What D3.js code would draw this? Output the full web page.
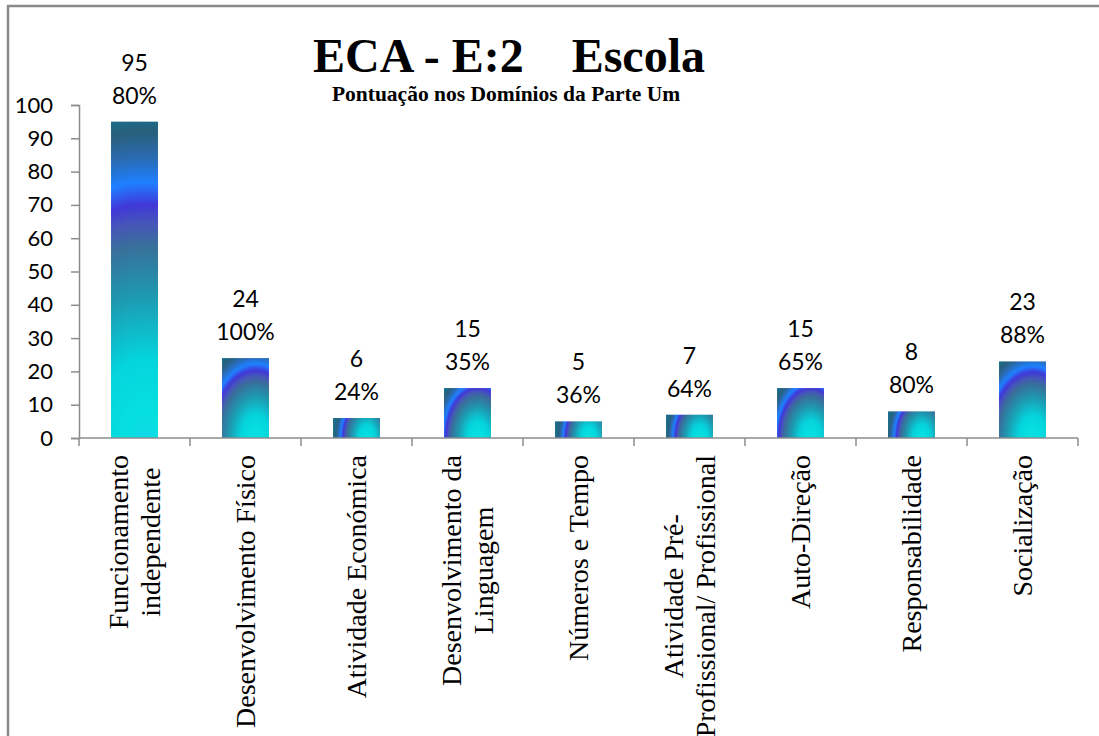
<!DOCTYPE html>
<html>
<head>
<meta charset="utf-8">
<script src="https://cdn.jsdelivr.net/npm/d3@7"></script>
<style>
  html, body { margin: 0; padding: 0; background: #fff; }
  svg { display: block; }
</style>
</head>
<body>
<svg id="chart" width="1099" height="736"></svg>
<script>
const categories = [
  "Funcionamento\nindependente",
  "Desenvolvimento Físico",
  "Atividade Económica",
  "Desenvolvimento da\nLinguagem",
  "Números e Tempo",
  "Atividade Pré-\nProfissional/ Profissional",
  "Auto-Direção",
  "Responsabilidade",
  "Socialização"
];
const scores = [95, 24, 6, 15, 5, 7, 15, 8, 23];
const percents = ["80%", "100%", "24%", "35%", "36%", "64%", "65%", "80%", "88%"];
const yTicks = [0, 10, 20, 30, 40, 50, 60, 70, 80, 90, 100];
const titleText = "ECA - E:2    Escola";
const subtitleText = "Pontuação nos Domínios da Parte Um";

const svg = d3.select("#chart");
const margin = { left: 79, right: 21 };
const W = 1099;

// outer border
svg.append("rect")
  .attr("x", 8).attr("y", 6).attr("width", 1200).attr("height", 900)
  .attr("fill", "none").attr("stroke", "#8a8a8a").attr("stroke-width", 2.5);

const defs = svg.append("defs");
const gradStops = [
  [0.00, "#10d8e8"], [0.08, "#06e0e0"], [0.25, "#04d4dc"], [0.45, "#1e98b0"],
  [0.60, "#38709a"], [0.67, "#4656b8"], [0.73, "#4038d8"],
  [0.80, "#1e80ff"], [0.88, "#2a6ab0"], [0.96, "#28607a"],
  [1.00, "#1a6c8a"]
];

const x = d3.scaleBand()
  .domain(categories)
  .range([margin.left, W - margin.right])
  .paddingInner(0.577)
  .paddingOuter(0.2885);

const y = d3.scaleLinear().domain([0, 100]).range([438, 105]);

// y axis
const yAxis = svg.append("g")
  .attr("transform", `translate(${margin.left},0)`)
  .call(d3.axisLeft(y).tickValues(yTicks).tickSize(8).tickPadding(18));
yAxis.select(".domain").attr("stroke", "#8c8c8c").attr("stroke-width", 1.5);
yAxis.selectAll(".tick line").attr("stroke", "#8c8c8c").attr("stroke-width", 1.5);
yAxis.selectAll(".tick text")
  .attr("font-family", "Lato, 'Open Sans', sans-serif")
  .attr("font-size", 22).attr("fill", "#000");

// per-bar elliptical radial gradients (centre near bottom-right)
scores.forEach((v, i) => {
  const bx = x(categories[i]), bw = x.bandwidth();
  const bh = y(0) - y(v);
  const diag = Math.sqrt(bw * bw + bh * bh);
  const g = defs.append("radialGradient")
    .attr("id", "barGrad" + i)
    .attr("gradientUnits", "userSpaceOnUse")
    .attr("cx", 0).attr("cy", 0).attr("r", 1)
    .attr("gradientTransform",
      `translate(${bx + 0.72 * bw},${y(0)}) scale(${0.64 * diag},${1.0 * diag})`);
  gradStops.forEach(s => g.append("stop").attr("offset", s[0]).attr("stop-color", s[1]));
});

// bars
svg.selectAll("rect.bar")
  .data(scores)
  .enter().append("rect")
  .attr("class", "bar")
  .attr("x", (d, i) => x(categories[i]))
  .attr("width", x.bandwidth())
  .attr("y", d => y(d))
  .attr("height", d => y(0) - y(d))
  .attr("fill", (d, i) => `url(#barGrad${i})`);

// x axis line and boundary ticks
const step = x.step();
const x0 = x.range()[0];
const boundaries = d3.range(categories.length + 1).map(i => x0 + i * step);
svg.append("line")
  .attr("x1", x0).attr("x2", x.range()[1])
  .attr("y1", y(0)).attr("y2", y(0))
  .attr("stroke", "#8c8c8c").attr("stroke-width", 1.5);
svg.selectAll("line.xtick")
  .data(boundaries)
  .enter().append("line")
  .attr("class", "xtick")
  .attr("x1", d => d).attr("x2", d => d)
  .attr("y1", y(0)).attr("y2", y(0) + 8)
  .attr("stroke", "#8c8c8c").attr("stroke-width", 1.5);

// data labels
const labelFont = "Lato, 'Open Sans', sans-serif";
scores.forEach((v, i) => {
  const cx = x(categories[i]) + x.bandwidth() / 2;
  svg.append("text")
    .attr("x", cx).attr("y", y(v) - 51)
    .attr("text-anchor", "middle")
    .attr("font-family", labelFont).attr("font-size", 23).attr("fill", "#000")
    .text(v);
  svg.append("text")
    .attr("x", cx).attr("y", y(v) - 18)
    .attr("text-anchor", "middle")
    .attr("font-family", labelFont).attr("font-size", 23).attr("fill", "#000")
    .text(percents[i]);
});

// category labels (rotated)
const catFont = "'Liberation Serif', 'Times New Roman', serif";
categories.forEach((c, i) => {
  const cx = x(c) + x.bandwidth() / 2;
  const lines = c.split("\n");
  const g = svg.append("g").attr("transform", `translate(${cx},${y(0) + 17}) rotate(-90)`);
  const texts = lines.map((ln, j) => g.append("text")
    .attr("font-family", catFont).attr("font-size", 28).attr("fill", "#000")
    .attr("dominant-baseline", "central")
    .attr("y", (j - (lines.length - 1) / 2) * 32)
    .text(ln));
  const maxW = d3.max(texts, t => t.node().getComputedTextLength());
  texts.forEach(t => t.attr("text-anchor", "middle").attr("x", -maxW / 2));
});

// titles
svg.append("text")
  .attr("x", 509).attr("y", 72)
  .attr("text-anchor", "middle")
  .attr("font-family", catFont).attr("font-weight", "bold").attr("font-size", 48)
  .attr("fill", "#000")
  .style("white-space", "pre")
  .text(titleText);
svg.append("text")
  .attr("x", 506).attr("y", 101)
  .attr("text-anchor", "middle")
  .attr("font-family", catFont).attr("font-weight", "bold").attr("font-size", 21.5)
  .attr("fill", "#000")
  .text(subtitleText);
</script>
</body>
</html>
